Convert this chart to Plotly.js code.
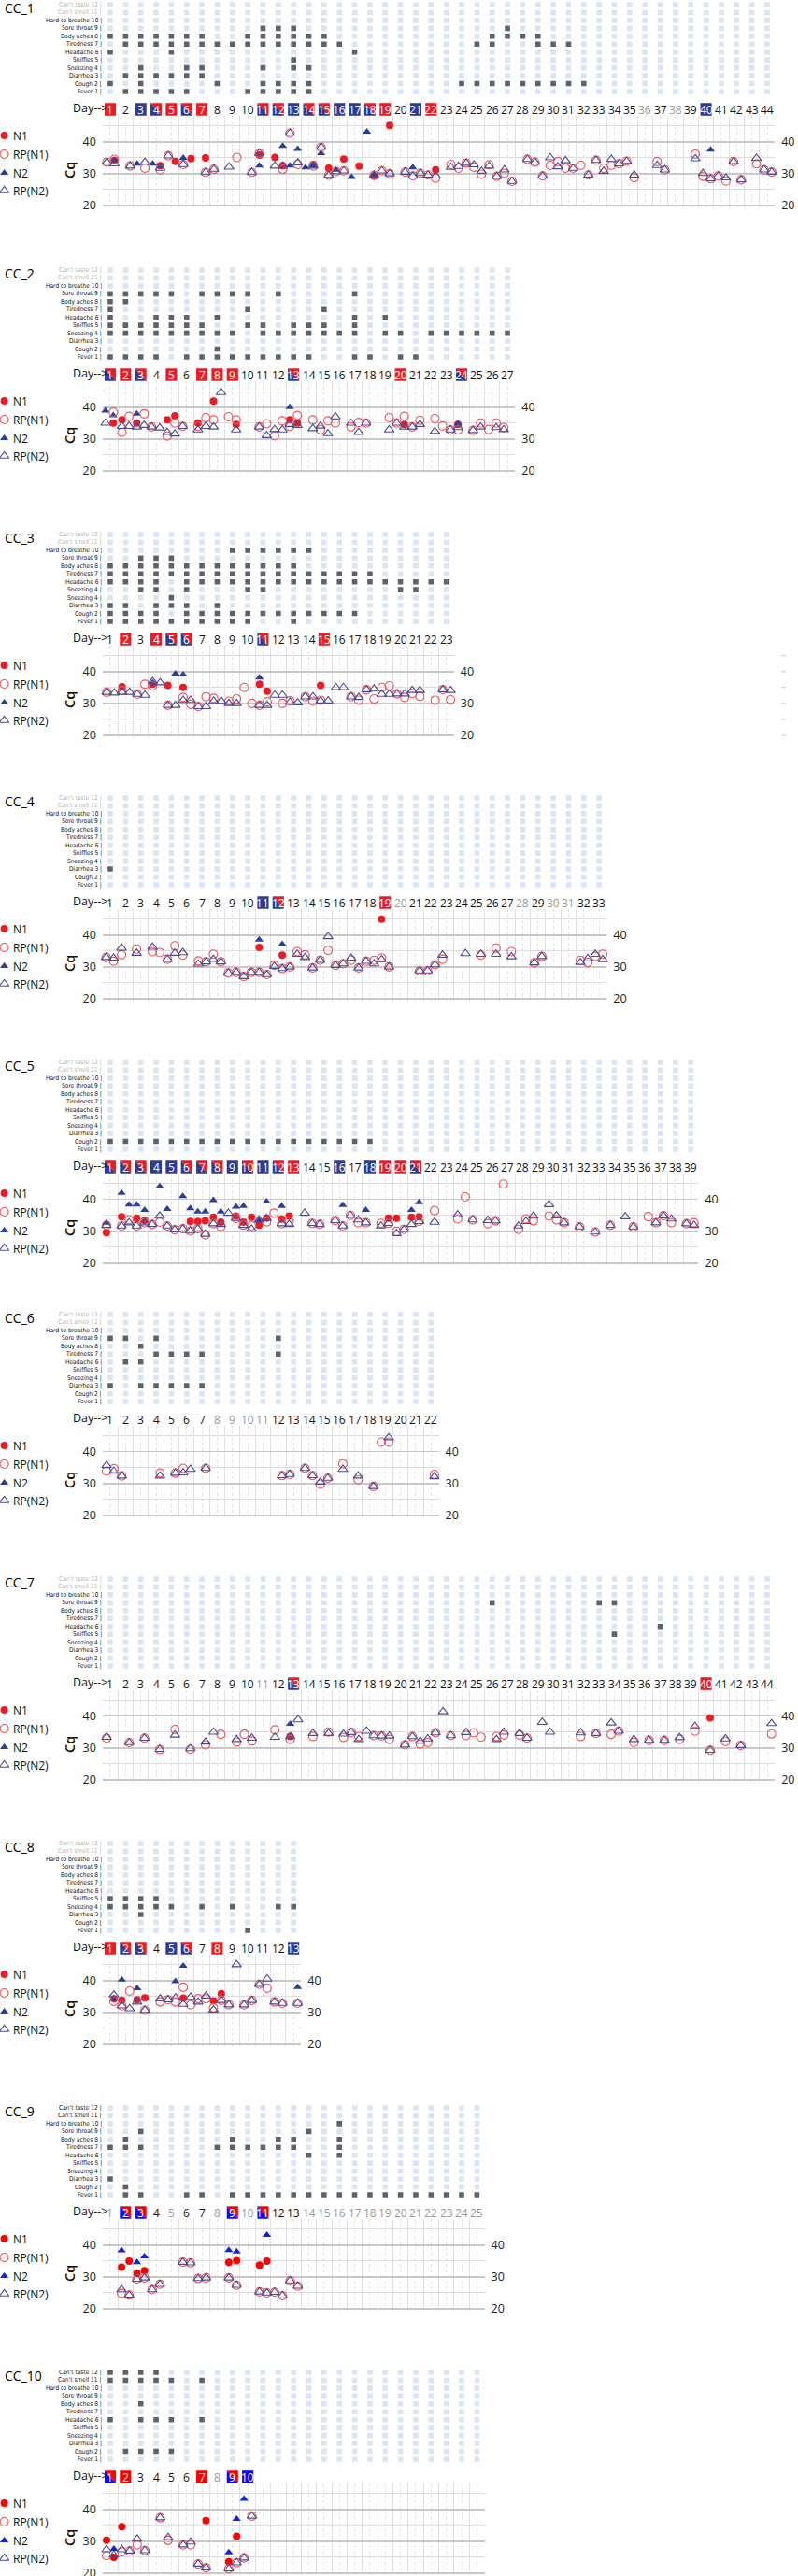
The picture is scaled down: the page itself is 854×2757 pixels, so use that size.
<!DOCTYPE html>
<html><head><meta charset="utf-8">
<script src="https://cdn.plot.ly/plotly-3.0.1.min.js"></script>
<style>
html,body{margin:0;padding:0;background:#fff;width:854px;height:2757px;overflow:hidden;position:relative}
.panel{position:absolute;left:0;width:854px;height:238px}
</style></head><body>
<script>
// ---------------- DATA ----------------
const SYMPTOM_LABELS = ["Fever 1","Cough 2","Diarrhea 3","Sneezing 4","Sniffles 5","Headache 6","Tiredness 7","Body aches 8","Sore throat 9","Hard to breathe 10","Can't smell 11","Can't taste 12"];
const SYMPTOM_LABELS_CC3 = ["Fever 1","Cough 2","Diarrhea 3","Sneezing 4","Sneezing 4","Headache 6","Tiredness 7","Body aches 8","Sore throat 9","Hard to breathe 10","Can't smell 11","Can't taste 12"];

// symptom grid: [row, [days with symptom]]
const CC1_sym = [[9,[11,12,13,27]],[8,[1,2,3,4,5,6,7,10,11,12,13,14,15,26,27,28,29]],[7,[2,3,4,5,6,7,8,9,10,11,12,13,14,15,16,25,26,29,30,31]],[6,[1,5,17]],[5,[13]],[4,[3,6,7,11,13,14]],[3,[2,3,4,5,6,7]],[2,[1,3,8,11,12,13,14,24,25,26,27,28,29,30,31,32]],[1,[2,3,4,5,6,10,11,12,13,14]]];
const CC2_sym = [[9,[1,2,3,4,5,7,8,9,10,12,17]],[8,[1,2]],[7,[1,10,15]],[6,[1,4,5,6,8,17,19]],[5,[1,2,3,4,5,6,7,10,11,13,14,15,17]],[4,[1,2,3,4,5,6,7,8,9,11,12,13,14,15,16,17,19,20,22,23,24,25,26,27]],[2,[8]],[1,[1,2,3,4,6,7,8,9,10,11,12,13,14,17,18,20,21]]];
const CC3_sym = [[10,[9,10,11,12,13,14]],[9,[3,4,5]],[8,[1,2,3,4,5,6,7,8,9,10,11,12,13]],[7,[1,2,3,4,5,6,7,8,9,10,11,12,13,14,15,16,17,18]],[6,[1,2,3,4,6,7,8,9,10,11,12,13,14,15,16,17,18,19,20,21,22,23]],[5,[3,4,6,10,11,20,21]],[4,[5]],[3,[1,2,4,5,6,8]],[2,[1,2,3,4,6,7,8,9,10,11,12,13,14,15,16,17]],[1,[1,2,3,4,5,6,7,8,9,10,13]]];
const CC4_sym = [[3,[1]]];
const CC5_sym = [[2,[1,2,3,4,5,6,7,8,9,10,11,12,13,14,15,16,17,18]]];
const CC6_sym = [[9,[1,2,4,12]],[8,[3]],[7,[4,5,6,7,12]],[6,[2,3]],[3,[1,3,4,5,6,7]]];
const CC7_sym = [[9,[26,33,34]],[6,[37]],[5,[34]]];
const CC8_sym = [[5,[1,2,3,4]],[4,[1,2,3,4,5,7,9,12,13]],[3,[3]],[1,[10]]];
const CC9_sym = [[10,[16]],[9,[3,14]],[8,[2,9,12,13,16]],[7,[1,2,3,8,9,10,11,12,13,16]],[6,[14,16]],[3,[1]],[2,[2]],[1,[2,3,6,7,9,10,11,12,13,14,15,16,17,18,19,20,21,22,23,24,25]]];
const CC10_sym = [[12,[1,2,3,4]],[11,[1,2,3,4,5,7]],[8,[3]],[6,[1,3,4,5,7]],[2,[2,3,4,5]]];

// day label highlighting
const CC1_red=[1,5,7,19,22], CC1_blue=[3,13,16,17,21,40], CC1_split=[4,6,11,12,14,15,18], CC1_gray=[36,38];
const CC2_red=[2,5,7,8,9,20], CC2_blue=[], CC2_split=[1,3,13,24], CC2_gray=[];
const CC3_red=[2,4,15], CC3_blue=[], CC3_split=[5,6,11], CC3_gray=[];
const CC4_red=[19], CC4_blue=[11], CC4_split=[12], CC4_gray=[20,28,30,31];
const CC5_red=[13,19,20], CC5_blue=[4,5,9,11,16,18], CC5_split=[1,2,3,6,7,8,10,12,21], CC5_gray=[];
const CC6_red=[], CC6_blue=[], CC6_split=[], CC6_gray=[8,9,10,11];
const CC7_red=[40], CC7_blue=[], CC7_split=[13], CC7_gray=[11];
const CC8_red=[1,8], CC8_blue=[5,13], CC8_split=[2,3,6], CC8_gray=[];
const CC9_red=[], CC9_blue=[], CC9_split=[2,3,9,11], CC9_gray=[1,5,8,10,14,15,16,17,18,19,20,21,22,23,24,25];
const CC10_red=[2,7], CC10_blue=[10], CC10_split=[1,9], CC10_gray=[8];

// Cq samples: [day, N1, RP(N1), N2, RP(N2)]
const CC1_ct = [
[0.78,null,33.6,null,33.6],[1.27,34.1,34.5,34.1,33.1],[2.3,null,32.4,null,32.4],[2.76,null,null,33.1,null],
[3.27,null,31.7,null,33.6],[3.78,null,null,33.1,null],[4.27,32.5,31.2,32.4,31.7],[4.8,null,35.6,null,35.6],
[5.27,33.8,null,null,null],[5.78,null,32.9,34.9,32.9],[6.29,34.7,null,null,null],[7.24,34.9,30.4,null,30.4],
[7.78,null,31.4,null,31.4],[8.78,null,null,null,32.1],[9.29,null,35.1,null,null],[10.27,null,30.4,null,30.4],
[10.76,35.8,36.4,32.5,36.4],[11.78,35.1,null,null,32.4],[12.29,32.5,31.4,38.7,32.4],[12.76,null,42.7,32.5,42.7],
[13.27,null,32.9,37.7,33.4],[13.78,null,null,31.9,null],[14.29,32.9,32.4,32.6,32.4],[14.8,null,38.3,36.4,38.3],
[15.3,31.7,29.5,null,29.5],[15.78,null,30.7,31.2,30.7],[16.29,34.6,30.9,null,30.9],[16.8,null,null,28.9,null],
[17.29,32.4,null,null,null],[17.8,null,null,43.1,null],[18.27,29.2,29.5,29.7,29.5],[18.78,null,30.9,null,30.9],
[19.29,45.1,30.0,null,30.0],[20.3,null,30.5,null,30.5],[20.8,null,29.3,31.9,29.3],[21.3,null,30.1,null,30.1],
[21.8,null,29.6,null,29.6],[22.3,31.2,28.6,null,29.3],[23.3,null,32.9,null,32.0],[23.8,null,31.7,null,32.3],
[24.3,null,33.3,null,33.3],[24.8,null,32.0,null,32.8],[25.3,null,29.8,null,30.8],[25.8,null,32.8,null,32.4],
[26.3,null,29.2,null,29.2],[26.8,null,30.1,null,31.2],[27.3,null,27.6,null,27.6],[28.3,null,34.5,null,34.5],
[28.8,null,33.6,null,33.6],[29.3,null,29.3,null,29.3],[29.8,null,32.6,null,35.0],[30.3,null,33.8,null,32.2],
[30.8,null,31.7,null,34.1],[31.3,null,31.7,null,31.7],[31.8,null,32.6,null,null],[32.3,null,29.6,null,29.6],
[32.8,null,34.2,null,34.2],[33.3,null,31.7,null,30.8],[33.8,null,32.6,null,34.5],[34.3,null,33.1,null,33.1],
[34.8,null,33.9,null,33.9],[35.3,null,28.7,null,29.6],[36.8,null,33.8,null,32.6],[37.3,null,31.2,null,31.2],
[39.3,null,36.1,null,34.7],[39.8,null,29.2,null,30.1],[40.3,null,28.4,37.5,28.4],[40.8,null,29.3,null,29.3],
[41.3,null,27.7,null,28.7],[41.8,null,33.8,null,33.8],[42.3,null,28.1,null,28.1],[43.3,null,33.1,null,34.8],
[43.8,null,31.2,null,31.2],[44.3,null,30.5,null,30.5]];
const CC2_ct = [
[0.69,null,null,38.9,35.0],[1.2,35.0,38.4,37.4,null],[1.77,36.0,32.1,null,34.0],[2.23,null,37.1,null,34.0],
[2.73,35.0,null,37.9,33.8],[3.22,null,37.9,null,34.3],[3.71,null,33.8,null,33.8],[4.24,null,null,null,33.5],
[4.73,36.0,30.9,null,32.1],[5.23,37.3,35.0,null,31.6],[5.74,null,34.0,null,34.0],[6.74,35.0,34.0,null,32.9],
[7.26,null,36.7,null,34.0],[7.76,41.9,36.0,null,33.8],[8.25,null,null,null,44.6],[8.74,null,37.0,null,null],
[9.24,34.6,36.0,null,32.9],[10.75,null,33.8,null,33.8],[11.24,null,34.8,null,31.1],[11.76,null,31.0,null,33.0],
[12.26,null,35.7,null,32.9],[12.75,36.0,34.0,40.0,34.6],[13.25,35.0,37.4,null,34.3],[14.26,null,36.0,null,33.3],
[14.76,null,32.9,null,34.1],[15.25,null,35.7,null,31.7],[15.74,null,35.0,null,37.0],[16.76,null,33.8,null,35.0],
[17.26,null,35.2,null,32.1],[17.75,null,35.0,null,35.0],[19.26,null,36.7,null,32.9],[19.75,null,35.0,null,35.0],
[20.25,34.6,37.1,null,33.8],[20.77,null,33.8,null,33.8],[21.27,null,35.9,null,34.6],[22.25,null,36.4,null,32.4],
[22.75,null,34.1,null,null],[23.27,null,32.9,null,32.9],[23.76,34.6,32.9,34.8,33.6],[24.75,null,32.7,null,32.7],
[25.24,null,35.0,null,33.8],[25.77,null,33.0,null,null],[26.26,null,35.0,null,33.6],[26.76,null,33.6,null,33.0]];
const CC3_ct = [
[0.77,null,33.5,null,33.5],[1.27,null,null,null,33.3],[1.77,35.2,34.0,null,33.5],[2.27,null,null,null,33.5],
[2.77,null,32.9,null,32.9],[3.27,null,36.0,null,32.6],[3.77,36.0,35.5,36.5,36.9],[4.27,null,null,null,36.5],
[4.77,35.7,29.4,null,29.4],[5.27,null,null,39.3,29.4],[5.77,35.0,31.9,39.0,31.0],[6.27,null,29.7,null,31.0],
[6.77,null,29.0,null,29.0],[7.27,null,32.1,null,29.0],[7.77,null,31.6,null,30.7],[8.27,null,null,null,30.7],
[8.77,null,30.7,null,30.0],[9.27,null,31.4,null,30.0],[9.77,null,35.0,null,null],[10.27,null,30.0,null,null],
[10.77,36.0,29.4,38.1,29.4],[11.27,33.8,30.5,null,29.4],[11.77,null,null,null,32.6],[12.27,null,30.0,null,32.6],
[12.77,null,30.8,null,30.4],[13.27,null,null,null,30.2],[13.77,null,32.1,null,32.1],[14.27,null,30.7,null,32.1],
[14.77,35.7,31.0,null,30.8],[15.27,null,null,null,30.8],[15.77,null,null,null,35.0],[16.27,null,null,null,35.0],
[16.77,null,32.1,null,32.1],[17.27,null,31.0,null,31.9],[17.77,null,34.3,null,34.3],[18.27,null,31.4,null,34.5],
[18.77,null,35.0,null,32.9],[19.27,null,35.5,null,32.9],[19.77,null,33.0,null,33.0],[20.27,null,31.9,null,33.0],
[20.77,null,33.1,null,34.1],[21.27,null,32.2,null,34.1],[22.27,null,31.0,null,null],[22.77,null,34.3,null,34.3],
[23.27,null,31.2,null,34.1]];
const CC4_ct = [
[0.73,null,33.0,null,33.0],[1.22,null,31.8,null,32.8],[1.74,null,33.8,null,35.9],[2.72,null,35.6,null,34.3],
[3.76,null,34.8,null,36.2],[4.25,null,34.5,null,null],[4.74,null,32.4,null,32.4],[5.23,null,36.6,null,34.3],
[5.75,null,33.7,null,34.5],[6.77,null,31.9,null,30.9],[7.26,null,31.6,null,31.6],[7.75,null,34.0,null,32.4],
[8.24,null,31.6,null,31.6],[8.73,null,28.1,null,28.1],[9.25,null,28.3,null,28.3],[9.74,null,27.0,null,27.0],
[10.23,null,28.3,null,28.3],[10.75,36.1,28.3,38.5,28.3],[11.25,null,27.6,null,27.6],[11.74,null,30.5,null,30.2],
[12.26,33.7,29.5,37.1,29.5],[12.75,null,30.0,null,30.0],[13.24,null,34.8,null,34.0],[13.76,null,33.8,null,33.0],
[14.25,null,29.7,null,29.7],[14.74,null,32.1,null,32.1],[15.26,null,35.2,null,39.5],[15.75,null,30.5,null,30.5],
[16.25,null,31.0,null,31.0],[16.77,null,32.1,null,32.8],[17.26,null,29.7,null,29.7],[17.75,null,31.8,null,31.8],
[18.27,null,32.1,null,31.0],[18.76,45.0,32.8,null,32.3],[19.25,null,30.0,null,30.0],[21.25,null,28.8,null,28.8],
[21.77,null,28.8,null,28.8],[22.26,null,30.7,null,30.7],[22.75,null,32.4,null,33.7],[24.25,null,null,null,34.2],
[25.26,null,33.7,null,34.0],[26.25,null,35.9,null,34.0],[27.26,null,34.8,null,33.2],[28.76,null,31.3,null,31.3],
[29.25,null,33.3,null,33.3],[31.77,null,32.1,null,31.4],[32.26,null,31.4,null,32.6],[32.75,null,33.3,null,34.0],
[33.24,null,34.0,null,32.3]];
const CC5_ct = [
[0.75,29.6,31.9,32.7,31.9],[1.74,34.6,31.7,42.0,31.7],[2.23,null,33.6,38.4,32.7],[2.73,34.1,31.7,38.4,31.7],
[3.25,33.4,32.7,36.7,32.7],[3.74,null,32.2,null,32.2],[4.24,null,32.9,44.1,34.8],[4.73,null,31.7,37.0,31.7],
[5.22,null,30.5,null,30.5],[5.75,null,30.8,41.0,30.8],[6.24,33.1,30.1,37.2,30.1],[6.73,33.1,30.8,36.2,30.8],
[7.22,33.3,28.9,36.2,29.1],[7.75,34.4,32.4,39.8,32.4],[8.24,32.9,31.5,36.2,32.2],[8.73,null,null,null,35.7],
[9.23,34.8,34.1,37.7,34.1],[9.72,32.9,31.9,37.9,31.9],[10.25,34.4,31.7,null,30.7],[10.74,31.9,null,33.4,33.6],
[11.23,34.1,33.0,39.3,34.1],[11.72,null,35.7,null,null],[12.22,33.8,32.4,37.9,32.4],[12.71,34.8,33.1,null,32.2],
[13.73,null,null,null,35.7],[14.22,null,32.5,null,32.5],[14.71,null,32.2,null,32.2],[15.73,null,33.4,null,33.4],
[16.22,null,31.7,38.2,31.7],[16.72,null,35.0,null,35.0],[17.24,null,32.7,null,33.6],[17.73,null,32.7,36.7,32.7],
[18.72,null,32.5,null,31.7],[19.21,34.1,32.5,null,32.5],[19.74,34.1,30.0,null,29.3],[20.23,null,30.6,null,30.6],
[20.72,34.4,null,36.7,32.2],[21.22,34.6,33.1,39.1,33.1],[22.23,null,36.5,null,32.9],[23.74,null,33.9,null,35.2],
[24.24,null,40.8,null,null],[24.73,null,33.6,null,33.6],[25.72,null,32.4,null,33.4],[26.21,null,33.3,null,33.3],
[26.73,null,44.8,null,null],[27.72,null,30.6,null,31.7],[28.21,null,33.9,null,33.1],[28.7,null,33.3,null,34.8],
[29.72,null,34.8,null,38.4],[30.21,null,33.6,null,34.9],[30.71,null,32.7,null,32.7],[31.72,null,31.4,null,31.4],
[32.74,null,29.8,null,29.8],[33.73,null,31.9,null,31.9],[34.71,null,null,null,34.6],[35.24,null,31.4,null,31.4],
[36.22,null,34.6,null,null],[36.72,null,32.7,null,32.7],[37.21,null,34.9,null,34.9],[37.73,null,32.7,null,33.9],
[38.72,null,32.4,null,32.4],[39.21,null,32.7,null,31.9]];
const CC6_ct = [
[0.76,null,33.9,null,35.7],[1.24,null,34.7,null,33.9],[1.75,null,32.4,null,32.4],[4.26,null,33.3,null,32.4],
[5.26,null,33.3,null,33.3],[5.77,null,34.8,null,33.4],[6.25,null,null,null,34.5],[7.25,null,34.8,null,34.8],
[12.24,null,32.5,null,32.5],[12.75,null,32.9,null,32.9],[13.75,null,34.8,null,34.8],[14.24,null,32.5,null,32.5],
[14.75,null,29.8,null,30.5],[15.24,null,31.7,null,31.7],[16.23,null,36.2,null,34.5],[17.23,null,31.2,null,32.4],
[18.23,null,29.1,null,29.1],[18.74,null,43.0,null,null],[19.23,null,43.0,null,44.4],[22.22,null,32.9,null,32.2]];
const CC7_ct = [
[0.76,null,33.1,null,33.4],[2.24,null,31.7,null,31.7],[3.24,null,33.1,null,33.1],[4.24,null,29.5,null,29.6],
[5.24,null,35.8,null,34.1],[6.24,null,29.6,null,29.8],[7.24,null,31.0,null,31.9],[7.76,null,null,null,35.0],
[8.24,null,34.3,null,null],[9.27,null,31.9,null,32.7],[9.78,null,34.3,null,null],[10.27,null,32.2,null,33.1],
[11.78,null,35.7,null,33.4],[12.78,33.6,32.7,37.6,33.6],[13.29,null,null,null,38.9],[14.27,null,33.6,null,34.6],
[15.29,null,35.0,null,34.6],[16.27,null,33.3,null,34.4],[16.78,null,34.9,null,34.9],[17.27,null,33.6,null,32.7],
[17.78,null,null,null,35.3],[18.24,null,33.9,null,33.9],[18.76,null,33.8,null,33.8],[19.27,null,32.7,null,33.8],
[20.29,null,31.0,null,31.0],[20.78,null,33.6,null,33.6],[21.29,null,31.2,null,32.2],[21.78,null,31.7,null,32.9],
[22.29,null,34.8,null,34.8],[22.78,null,null,null,41.4],[23.29,null,33.9,null,33.9],[24.29,null,33.9,null,34.9],
[24.78,null,34.8,null,null],[25.27,null,33.4,null,null],[26.28,null,33.6,null,32.7],[26.77,null,34.1,null,35.0],
[27.79,null,34.1,null,34.6],[28.28,null,33.1,null,33.1],[29.28,null,null,null,38.1],[29.79,null,null,null,35.0],
[31.79,null,33.6,null,34.8],[32.79,null,34.6,null,34.6],[33.79,null,34.3,null,37.9],[34.28,null,35.3,null,35.3],
[35.28,null,31.7,null,32.7],[36.27,null,32.4,null,32.4],[37.27,null,32.4,null,32.4],[38.27,null,32.7,null,33.3],
[39.27,null,35.3,null,36.8],[40.27,39.5,29.3,null,29.3],[41.27,null,32.0,null,32.9],[42.27,null,30.8,null,30.8],
[44.29,null,34.4,null,37.7]];
const CC8_ct = [
[1.24,34.3,33.5,34.3,35.5],[1.76,33.8,32.1,40.3,32.1],[2.27,null,36.7,null,31.2],[2.76,34.0,null,37.6,33.3],
[3.27,34.6,30.7,null,30.7],[4.27,null,33.3,null,34.3],[4.78,null,34.0,null,34.0],[5.27,null,33.3,39.8,34.6],
[5.78,34.5,37.9,44.6,32.6],[6.27,null,32.4,null,34.8],[6.76,null,34.3,null,33.3],[7.27,null,34.3,null,35.2],
[7.76,33.6,31.4,null,30.8],[8.27,35.9,33.8,null,33.8],[8.76,null,32.4,null,32.4],[9.27,null,null,null,45.0],
[9.76,null,32.4,null,32.4],[10.27,null,33.8,null,33.8],[10.76,null,38.8,null,38.8],[11.27,null,37.6,null,40.5],
[11.76,null,33.3,null,33.3],[12.27,null,32.9,null,32.9],[13.27,null,32.9,37.9,32.9]];
const CC9_ct = [
[1.74,33.0,24.8,38.3,26.0],[2.24,34.9,24.3,null,24.3],[2.75,31.1,29.3,34.6,29.3],[3.24,31.9,29.7,36.4,29.7],
[3.74,null,26.0,null,26.0],[4.25,null,27.7,null,27.7],[5.75,null,34.6,null,34.6],[6.25,null,34.4,null,34.4],
[6.76,null,29.5,null,29.5],[7.27,null,29.7,null,29.7],[8.76,34.6,29.7,38.4,29.7],[9.27,35.1,27.4,37.9,27.4],
[10.77,33.7,25.3,null,25.3],[11.25,34.9,25.0,43.1,25.0],[11.76,null,25.2,null,25.2],[12.27,null,24.1,null,24.1],
[12.77,null,28.8,null,28.8],[13.28,null,27.1,null,27.1]];
const CC10_ct = [
[0.76,30.3,25.5,null,27.4],[1.24,25.0,null,27.6,25.7],[1.76,34.6,26.7,null,27.4],[2.27,null,27.0,null,27.0],
[2.76,null,28.9,null,30.7],[3.27,null,27.1,null,27.1],[4.27,null,37.4,null,37.4],[4.78,null,30.3,null,31.2],
[5.78,null,28.9,null,28.9],[6.27,null,28.9,null,29.8],[6.76,null,22.9,null,22.9],[7.27,36.5,21.7,null,21.7],
[8.76,23.6,21.4,26.5,21.4],[9.27,31.6,23.3,37.0,23.3],[9.76,null,24.8,43.3,24.8],[10.27,null,37.9,null,37.9]];

const CQ_TICKS = [20, 30, 40];
const CQ_MINOR = [25, 35, 45];
const LEGEND_NAMES = ["N1", "RP(N1)", "N2", "RP(N2)"];

// ---------------- PANEL CONFIG (layout only) ----------------
const PANELS = [
 {name:'CC_1', top:0,    cols:44, days:44, sym:CC1_sym, ct:CC1_ct, red:CC1_red, blue:CC1_blue, split:CC1_split, gray:CC1_gray, labels:SYMPTOM_LABELS, grayRows:[11,12], right:true, vivid:false},
 {name:'CC_2', top:284,  cols:27, days:27, sym:CC2_sym, ct:CC2_ct, red:CC2_red, blue:CC2_blue, split:CC2_split, gray:CC2_gray, labels:SYMPTOM_LABELS, grayRows:[11,12], right:true, vivid:false},
 {name:'CC_3', top:567,  cols:23, days:23, sym:CC3_sym, ct:CC3_ct, red:CC3_red, blue:CC3_blue, split:CC3_split, gray:CC3_gray, labels:SYMPTOM_LABELS_CC3, grayRows:[11,12], right:true, vivid:false, edgeMarks:true},
 {name:'CC_4', top:849,  cols:33, days:33, sym:CC4_sym, ct:CC4_ct, red:CC4_red, blue:CC4_blue, split:CC4_split, gray:CC4_gray, labels:SYMPTOM_LABELS, grayRows:[11,12], right:true, vivid:false},
 {name:'CC_5', top:1132, cols:39, days:39, sym:CC5_sym, ct:CC5_ct, red:CC5_red, blue:CC5_blue, split:CC5_split, gray:CC5_gray, labels:SYMPTOM_LABELS, grayRows:[11,12], right:true, vivid:false},
 {name:'CC_6', top:1402, cols:22, days:22, sym:CC6_sym, ct:CC6_ct, red:CC6_red, blue:CC6_blue, split:CC6_split, gray:CC6_gray, labels:SYMPTOM_LABELS, grayRows:[11,12], right:true, vivid:false},
 {name:'CC_7', top:1685, cols:44, days:44, sym:CC7_sym, ct:CC7_ct, red:CC7_red, blue:CC7_blue, split:CC7_split, gray:CC7_gray, labels:SYMPTOM_LABELS, grayRows:[11,12], right:true, vivid:false},
 {name:'CC_8', top:1968, cols:13, days:13, sym:CC8_sym, ct:CC8_ct, red:CC8_red, blue:CC8_blue, split:CC8_split, gray:CC8_gray, labels:SYMPTOM_LABELS, grayRows:[11,12], right:true, vivid:false},
 {name:'CC_9', top:2251, cols:25, days:25, sym:CC9_sym, ct:CC9_ct, red:CC9_red, blue:CC9_blue, split:CC9_split, gray:CC9_gray, labels:SYMPTOM_LABELS, grayRows:[], right:true, vivid:true},
 {name:'CC_10',top:2534, cols:25, days:10, sym:CC10_sym, ct:CC10_ct, red:CC10_red, blue:CC10_blue, split:CC10_split, gray:CC10_gray, labels:SYMPTOM_LABELS, grayRows:[], right:false, vivid:true}
];

// ---------------- RENDER ----------------
const W = 854, H = 238, TOPPAD = 6;
const X0 = 109.8, DX = 16.35;
const FONT = '"Open Sans", "Noto Sans", sans-serif';
const GRIDFONT = '"Liberation Sans Narrow", "DejaVu Sans Condensed", Roboto, sans-serif';
const LIGHT = '#d7e5f7', DARK = '#5d626b';
const ROW0 = 5, ROWH = 8.45, DAYROW = 117;
const CQ_MIN = 19.4, CQ_MAX = 48;
const PX_PER_UNIT = 3.415;
const CQ20_PX = 220;
const CQ_BOTTOM = CQ20_PX + (20 - CQ_MIN) * PX_PER_UNIT, CQ_TOP = CQ20_PX - (CQ_MAX - 20) * PX_PER_UNIT;
const py = v => 1 - (v + TOPPAD) / H;

function buildPanel(p, idx) {
  const div = document.createElement('div');
  div.className = 'panel';
  div.style.top = (p.top - TOPPAD) + 'px';
  div.id = 'panel' + idx;
  document.body.appendChild(div);

  const RED = p.vivid ? '#ff0000' : '#ed1c24';
  const BLUE = p.vivid ? '#0a0aff' : '#2e3b91';
  const N2C = p.vivid ? '#1020e8' : '#2a3f9a';
  const xr = [0.499, p.cols + 0.501];
  const xd = [X0 / W, (X0 + p.cols * DX) / W];
  const rowY = r => ROW0 + (12 - r) * ROWH;

  const gx = [], gy = [], gc = [];
  for (let r = 1; r <= 12; r++) {
    const row = p.sym.find(s => s[0] === r);
    const set = row ? row[1] : [];
    for (let c = 1; c <= p.cols; c++) { gx.push(c); gy.push(r); gc.push(set.includes(c) ? DARK : LIGHT); }
  }
  const traces = [{
    type: 'scatter', mode: 'markers', x: gx, y: gy, xaxis: 'x2', yaxis: 'y2', hoverinfo: 'skip',
    marker: {symbol: 'square', size: 5.6, color: gc, line: {width: 0}}
  }];

  const styles = [
    {k: 1, marker: {symbol: 'circle', size: 8, color: RED, line: {width: 0}}},
    {k: 2, marker: {symbol: 'circle-open', size: 9, color: '#f0565b', line: {width: 1.1}}},
    {k: 3, marker: {symbol: 'triangle-up', size: 8, color: N2C, line: {width: 0}}},
    {k: 4, marker: {symbol: 'triangle-up-open', size: 9, color: '#4b4b94', line: {width: 1.1}}}
  ];
  [0, 2, 1, 3].forEach(si => {
    const s = styles[si];
    const rows = p.ct.filter(r => r[s.k] !== null);
    traces.push({type: 'scatter', mode: 'markers', x: rows.map(r => r[0]), y: rows.map(r => r[s.k]),
      xaxis: 'x', yaxis: 'y', marker: s.marker, hoverinfo: 'skip', cliponaxis: false});
  });
  traces.push({type: 'scatter', mode: 'markers', x: [-5], y: [30], xaxis: 'x', yaxis: 'y3', marker: {opacity: 0}, hoverinfo: 'skip'});
  const legY = [145, 165, 185, 204];
  styles.forEach((s, i) => {
    traces.push({type: 'scatter', mode: 'markers', x: [4.6], y: [legY[i]], xaxis: 'x3', yaxis: 'y4', marker: s.marker, hoverinfo: 'skip', cliponaxis: false});
  });

  const ann = [];
  const shapes = [];
  ann.push({text: p.name, xref: 'paper', yref: 'paper', x: 3 / W, y: py(8), xanchor: 'left', yanchor: 'middle', showarrow: false, font: {size: 14, color: '#000', family: FONT}});
  for (let r = 1; r <= 12; r++) {
    ann.push({text: p.labels[r - 1] + ' |', xref: 'paper', yref: 'paper', x: 110.5 / W, y: py(rowY(r)), xanchor: 'right', yanchor: 'middle', showarrow: false,
      font: {size: 6.6, family: GRIDFONT, color: p.grayRows.includes(r) ? '#b4b4b4' : '#111'}});
  }
  ann.push({text: 'Day-->', xref: 'paper', yref: 'paper', x: 76 / W, y: py(DAYROW - 1.5), xanchor: 'left', yanchor: 'middle', showarrow: false, font: {size: 12.5, family: FONT, color: '#111'}});
  const bh = 6.8;
  for (let d = 1; d <= p.days; d++) {
    let color = '#111';
    const x0 = d - 0.37, x1 = d + 0.37, y0 = py(DAYROW + bh), y1 = py(DAYROW - bh);
    if (p.red.includes(d)) {
      shapes.push({type: 'rect', xref: 'x', yref: 'paper', x0, x1, y0, y1, fillcolor: RED, line: {width: 0}, layer: 'above'});
      color = '#fff';
    } else if (p.blue.includes(d)) {
      shapes.push({type: 'rect', xref: 'x', yref: 'paper', x0, x1, y0, y1, fillcolor: BLUE, line: {width: 0}, layer: 'above'});
      color = '#fff';
    } else if (p.split.includes(d)) {
      shapes.push({type: 'path', xref: 'x', yref: 'paper', path: `M ${x0},${y1} L ${x1},${y1} L ${x1},${y0} Z`, fillcolor: RED, line: {width: 0}, layer: 'above'});
      shapes.push({type: 'path', xref: 'x', yref: 'paper', path: `M ${x0},${y1} L ${x0},${y0} L ${x1},${y0} Z`, fillcolor: BLUE, line: {width: 0}, layer: 'above'});
      color = '#fff';
    } else if (p.gray.includes(d)) {
      color = '#9a9a9a';
    }
    ann.push({text: String(d), xref: 'x', yref: 'paper', x: d, y: py(DAYROW), xanchor: 'center', yanchor: 'middle', showarrow: false, font: {size: 12, family: FONT, color}});
  }
  if (p.edgeMarks) {
    CQ_TICKS.concat(CQ_MINOR).forEach(v => {
      shapes.push({type: 'line', xref: 'paper', yref: 'y', x0: 836 / W, x1: 841 / W, y0: v, y1: v, line: {color: '#c8c8c8', width: 1}});
    });
  }
  ann.push({text: 'Cq', xref: 'paper', yref: 'paper', x: 74 / W, y: py(182), xanchor: 'center', yanchor: 'middle', textangle: -90, showarrow: false, font: {size: 14.5, family: FONT, color: '#111', weight: 600}});
  LEGEND_NAMES.forEach((n, i) => {
    ann.push({text: n, xref: 'paper', yref: 'paper', x: 12 / W, y: py(legY[i]), xanchor: 'left', yanchor: 'middle', showarrow: false, font: {size: 12, family: FONT, color: '#111'}});
  });

  const cqD = [py(CQ_BOTTOM), py(CQ_TOP)];
  const gD = [py(ROW0 + 11.5 * ROWH), py(ROW0 - 0.5 * ROWH)];
  const tickFont = {size: 12.5, family: FONT, color: '#222'};
  const layout = {
    width: W, height: H, margin: {l: 0, r: 0, t: 0, b: 0}, showlegend: false,
    paper_bgcolor: 'rgba(0,0,0,0)', plot_bgcolor: 'rgba(0,0,0,0)', hovermode: false,
    font: {family: FONT, color: '#111'},
    xaxis: {domain: xd, range: xr, anchor: 'y', tickmode: 'linear', tick0: 0.5, dtick: 1, showgrid: true, gridcolor: '#e0e0e0', gridwidth: 1,
      showticklabels: false, ticks: '', zeroline: false, showline: false,
      minor: {tickmode: 'linear', tick0: 0, dtick: 1, showgrid: true, gridcolor: '#e4e4e4', griddash: 'dot', gridwidth: 1}},
    yaxis: {domain: cqD, range: [CQ_MIN, CQ_MAX], anchor: 'x', tickmode: 'array', tickvals: CQ_TICKS, ticktext: CQ_TICKS.map(String),
      showgrid: true, gridcolor: '#c8c8c8', gridwidth: 1.6, zeroline: false, showline: false, ticks: '', tickfont: tickFont, ticklabelstandoff: 6,
      minor: {tickmode: 'array', tickvals: CQ_MINOR, showgrid: true, gridcolor: '#dcdcdc', gridwidth: 1}},
    yaxis3: {overlaying: 'y', side: 'right', anchor: 'x', range: [CQ_MIN, CQ_MAX], tickmode: 'array', tickvals: CQ_TICKS, ticktext: CQ_TICKS.map(String),
      showgrid: false, zeroline: false, showline: false, ticks: '', tickfont: tickFont, ticklabelstandoff: 6, showticklabels: p.right},
    xaxis2: {domain: xd, range: xr, anchor: 'y2', visible: false},
    yaxis2: {domain: gD, range: [0.5, 12.5], anchor: 'x2', visible: false},
    xaxis3: {domain: [0, 0.06], range: [0, 0.06 * W], anchor: 'y4', visible: false},
    yaxis4: {domain: [py(214), py(136)], range: [214, 136], anchor: 'x3', visible: false},
    annotations: ann, shapes
  };
  Plotly.newPlot(div, traces, layout, {staticPlot: true, displayModeBar: false});
}
PANELS.forEach(buildPanel);
</script>
</body></html>
